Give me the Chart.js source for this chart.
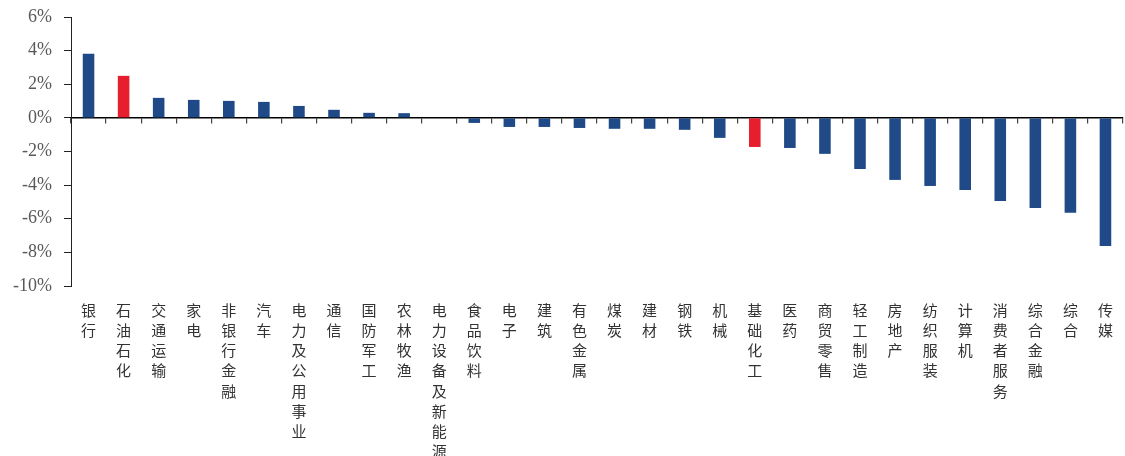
<!DOCTYPE html>
<html>
<head>
<meta charset="utf-8">
<script src="https://cdn.jsdelivr.net/npm/chart.js@4.4.1/dist/chart.umd.min.js"></script>
<style>
  html,body{margin:0;padding:0;background:#fff;}
  #wrap{width:1125px;height:456px;position:relative;}
</style>
</head>
<body>
<div id="wrap"><canvas id="industryBar"></canvas></div>
<script>
const industries=['银行','石油石化','交通运输','家电','非银行金融','汽车','电力及公用事业','通信','国防军工','农林牧渔',
  '电力设备及新能源','食品饮料','电子','建筑','有色金属','煤炭','建材','钢铁','机械','基础化工',
  '医药','商贸零售','轻工制造','房地产','纺织服装','计算机','消费者服务','综合金融','综合','传媒'];
const returns=[3.81,2.50,1.19,1.07,1.01,0.95,0.71,0.48,0.30,0.28,
  0.00,-0.30,-0.54,-0.54,-0.60,-0.65,-0.65,-0.71,-1.19,-1.73,
  -1.79,-2.14,-3.04,-3.69,-4.05,-4.29,-4.94,-5.36,-5.65,-7.62];
const highlighted=['石油石化','基础化工'];
const yTicks=[-10,-8,-6,-4,-2,0,2,4,6];

const BLUE='#1f4a87', RED='#e61e2e';

document.addEventListener('DOMContentLoaded',()=>{
  new Chart(document.getElementById('industryBar'),{
    type:'bar',
    data:{
      labels:industries.map(s=>s.split('')),
      datasets:[{data:returns,
        backgroundColor:industries.map(n=>highlighted.includes(n)?RED:BLUE),
        barPercentage:0.33,categoryPercentage:1}]
    },
    options:{responsive:true,maintainAspectRatio:false,animation:false,
      layout:{padding:{top:17,right:2,left:0,bottom:0}},
      plugins:{legend:{display:false},tooltip:{enabled:false}},
      scales:{
        x:{position:'bottom',grid:{display:false,drawTicks:false},border:{display:false},
          afterFit:ax=>{ax.height=170;ax.paddingLeft=0;ax.paddingRight=0;},
          ticks:{color:'#333',padding:14,maxRotation:0,autoSkip:false,
            font:{family:'"Noto Sans CJK SC"',size:15,lineHeight:'20.2px'}}},
        x2:{axis:'x',type:'category',position:{y:0},offset:true,
          grid:{display:true,offset:true,drawOnChartArea:false,drawTicks:true,tickLength:5,color:'#444',lineWidth:1.2},
          border:{display:true,color:'#000',width:1.5},
          ticks:{display:false}},
        y:{min:-10,max:6,
          afterFit:ax=>{ax.width=71;ax.paddingTop=0;ax.paddingBottom=0;},
          afterBuildTicks:ax=>{ax.ticks=yTicks.map(v=>({value:v}));},
          grid:{drawOnChartArea:false,drawTicks:true,tickLength:7,color:'#222'},
          border:{display:true,color:'#222',width:1},
          ticks:{color:'#595959',padding:12,callback:v=>v+'%',
            font:{family:'"Liberation Serif","Times New Roman",serif',size:18}}}
      }}
  });
});
</script>
</body>
</html>
